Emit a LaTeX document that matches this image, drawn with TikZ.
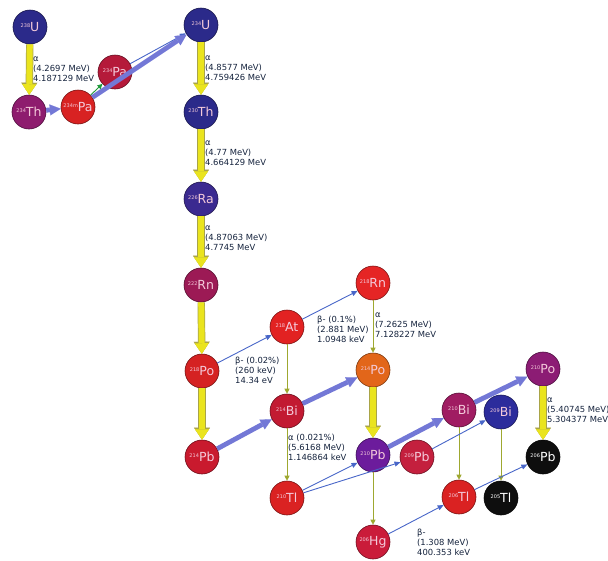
\documentclass[tikz,border=0pt]{standalone}
\usepackage{fontspec}
\setmainfont{DejaVu Sans}
\usetikzlibrary{arrows.meta}
\definecolor{NucText}{HTML}{F4CADA}
\definecolor{LblText}{HTML}{14223C}
\definecolor{AlphaYellow}{HTML}{EAE41E}
\definecolor{AlphaEdge}{HTML}{A9A448}
\definecolor{AlphaThin}{HTML}{9EA830}
\definecolor{BetaBig}{HTML}{7378D6}
\definecolor{BetaThin}{HTML}{4866C8}
\definecolor{ITgreen}{HTML}{1E9A3A}
\definecolor{Ublue}{HTML}{2B2A8A}
\definecolor{Rablue}{HTML}{3B2A90}
\definecolor{Thmag}{HTML}{8E1C6E}
\definecolor{Pared}{HTML}{D82222}
\definecolor{Pacrim}{HTML}{B51A3A}
\definecolor{Rnmag}{HTML}{9C1A55}
\definecolor{Pored}{HTML}{D52222}
\definecolor{Pbred}{HTML}{C91A2E}
\definecolor{Atred}{HTML}{E22222}
\definecolor{Bicrim}{HTML}{C21A32}
\definecolor{Tlred}{HTML}{DA2222}
\definecolor{Rnred}{HTML}{E52525}
\definecolor{Poorange}{HTML}{E2661A}
\definecolor{Pbpurple}{HTML}{6C1C9C}
\definecolor{Pbcrim}{HTML}{C4203E}
\definecolor{Hgcrim}{HTML}{CA1C3A}
\definecolor{Bimag}{HTML}{A01C62}
\definecolor{Biblue}{HTML}{2C2C9C}
\definecolor{Pomag}{HTML}{8C1C74}
\definecolor{Nblack}{HTML}{0E0E0E}
\newcommand{\nucl}[2]{\raisebox{0.55ex}{\fontsize{5}{5}\selectfont #1}#2}

\begin{document}
\begin{tikzpicture}[x=1pt, y=-1pt,
  nuc/.style={circle, minimum size=34pt, inner sep=0pt, fill=#1, draw=#1!55!black,
    line width=0.6pt, text=NucText, font=\fontsize{12.5}{12.5}\selectfont},
  lbl/.style={anchor=north west, align=left, inner sep=0pt, text=LblText,
    font=\fontsize{8.4}{10}\selectfont, execute at begin node=\strut},
  alphabig/.style={draw=AlphaYellow, line width=6pt,
    -{Triangle[width=14pt,length=10.5pt,line width=0.1pt]},
    preaction={draw=AlphaEdge, line width=7.4pt,
      -{Triangle[width=16pt,length=12pt,line width=0.1pt]}}},
  alphathin/.style={draw=AlphaThin, line width=0.9pt, -{Triangle[width=5pt,length=5pt]}},
  betabig/.style={draw=BetaBig, line width=4.8pt,
    -{Triangle[width=11pt,length=11pt,line width=0.1pt]}},
  betathin/.style={draw=BetaThin, line width=0.9pt, -{Triangle[width=5pt,length=6pt]}},
  itline/.style={draw=ITgreen, line width=0.9pt, -{Triangle[width=5pt,length=5pt]}}]
  \useasboundingbox (0,0) rectangle (608,560);
  \clip (0,0) rectangle (608,560);

  % Uranium series, top part
  \node[nuc=Ublue] (U238) at (30,27) {\nucl{238}{U}};
  \node[nuc=Thmag] (Th234) at (29,112) {\nucl{234}{Th}};
  \node[nuc=Pared] (Pa234m) at (78,107) {\nucl{234m}{Pa}};
  \node[nuc=Pacrim] (Pa234) at (115,72) {\nucl{234}{Pa}};
  \node[nuc=Ublue] (U234) at (201,25) {\nucl{234}{U}};
  \node[nuc=Ublue] (Th230) at (201,112) {\nucl{230}{Th}};
  \node[nuc=Rablue] (Ra226) at (201,199) {\nucl{226}{Ra}};
  \node[nuc=Rnmag] (Rn222) at (201,285) {\nucl{222}{Rn}};

  % Branching part
  \node[nuc=Pored] (Po218) at (202,371) {\nucl{218}{Po}};
  \node[nuc=Pbred] (Pb214) at (202,457) {\nucl{214}{Pb}};
  \node[nuc=Atred] (At218) at (287,327) {\nucl{218}{At}};
  \node[nuc=Bicrim] (Bi214) at (287,411) {\nucl{214}{Bi}};
  \node[nuc=Tlred] (Tl210) at (287,498) {\nucl{210}{Tl}};
  \node[nuc=Rnred] (Rn218) at (373,283) {\nucl{218}{Rn}};
  \node[nuc=Poorange] (Po214) at (373,370) {\nucl{214}{Po}};
  \node[nuc=Pbpurple] (Pb210) at (373,455) {\nucl{210}{Pb}};
  \node[nuc=Pbcrim] (Pb209) at (417,457) {\nucl{209}{Pb}};
  \node[nuc=Hgcrim] (Hg206) at (373,542) {\nucl{206}{Hg}};
  \node[nuc=Bimag] (Bi210) at (459,410) {\nucl{210}{Bi}};
  \node[nuc=Biblue] (Bi209) at (501,412) {\nucl{209}{Bi}};
  \node[nuc=Tlred] (Tl206) at (459,497) {\nucl{206}{Tl}};
  \node[nuc=Nblack, text=white] (Tl205) at (501,498) {\nucl{205}{Tl}};
  \node[nuc=Pomag] (Po210) at (543,369) {\nucl{210}{Po}};
  \node[nuc=Nblack, text=white] (Pb206) at (543,457) {\nucl{206}{Pb}};

  % Alpha decays
  \draw[alphabig] (U238) -- (Th234);
  \draw[alphabig] (U234) -- (Th230);
  \draw[alphabig] (Th230) -- (Ra226);
  \draw[alphabig] (Ra226) -- (Rn222);
  \draw[alphabig] (Rn222) -- (Po218);
  \draw[alphabig] (Po218) -- (Pb214);
  \draw[alphabig] (Po214) -- (Pb210);
  \draw[alphabig] (Po210) -- (Pb206);
  \draw[alphathin] (At218) -- (Bi214);
  \draw[alphathin] (Rn218) -- (Po214);
  \draw[alphathin] (Bi214) -- (Tl210);
  \draw[alphathin] (Pb210) -- (Hg206);
  \draw[alphathin] (Bi210) -- (Tl206);
  \draw[alphathin] (Bi209) -- (Tl205);

  % Beta decays
  \draw[itline] (Pa234m) -- (Pa234);
  \draw[betathin] (Pa234) -- (U234);
  \draw[betabig] (Th234) -- (Pa234m);
  \draw[betabig] (Pa234m) -- (U234);
  \draw[betabig] (Pb214) -- (Bi214);
  \draw[betabig] (Bi214) -- (Po214);
  \draw[betabig] (Pb210) -- (Bi210);
  \draw[betabig] (Bi210) -- (Po210);
  \draw[betathin] (Po218) -- (At218);
  \draw[betathin] (At218) -- (Rn218);
  \draw[betathin] (Tl210) -- (Pb210);
  \draw[betathin] (Tl210) -- (Pb209);
  \draw[betathin] (Pb209) -- (Bi209);
  \draw[betathin] (Hg206) -- (Tl206);
  \draw[betathin] (Tl206) -- (Pb206);

  % Energies
  \node[lbl] (lblU238) at (33,56.5) {α\\(4.2697 MeV)\\4.187129 MeV};
  \node[lbl] (lblU234) at (205,55.5) {α\\(4.8577 MeV)\\4.759426 MeV};
  \node[lbl] (lblTh230) at (205,140.5) {α\\(4.77 MeV)\\4.664129 MeV};
  \node[lbl] (lblRa226) at (205,226) {α\\(4.87063 MeV)\\4.7745 MeV};
  \node[lbl] (lblAt218) at (317,315.5) {β- (0.1\%)\\(2.881 MeV)\\1.0948 keV};
  \node[lbl] (lblRn218) at (375,312.5) {α\\(7.2625 MeV)\\7.128227 MeV};
  \node[lbl] (lblPo218) at (235,356.5) {β- (0.02\%)\\(260 keV)\\14.34 eV};
  \node[lbl] (lblBi214) at (288,433.5) {α (0.021\%)\\(5.6168 MeV)\\1.146864 keV};
  \node[lbl] (lblHg206) at (417,528.5) {β-\\(1.308 MeV)\\400.353 keV};
  \node[lbl] (lblPo210) at (547,397.5) {α\\(5.40745 MeV)\\5.304377 MeV};
\end{tikzpicture}
\end{document}
